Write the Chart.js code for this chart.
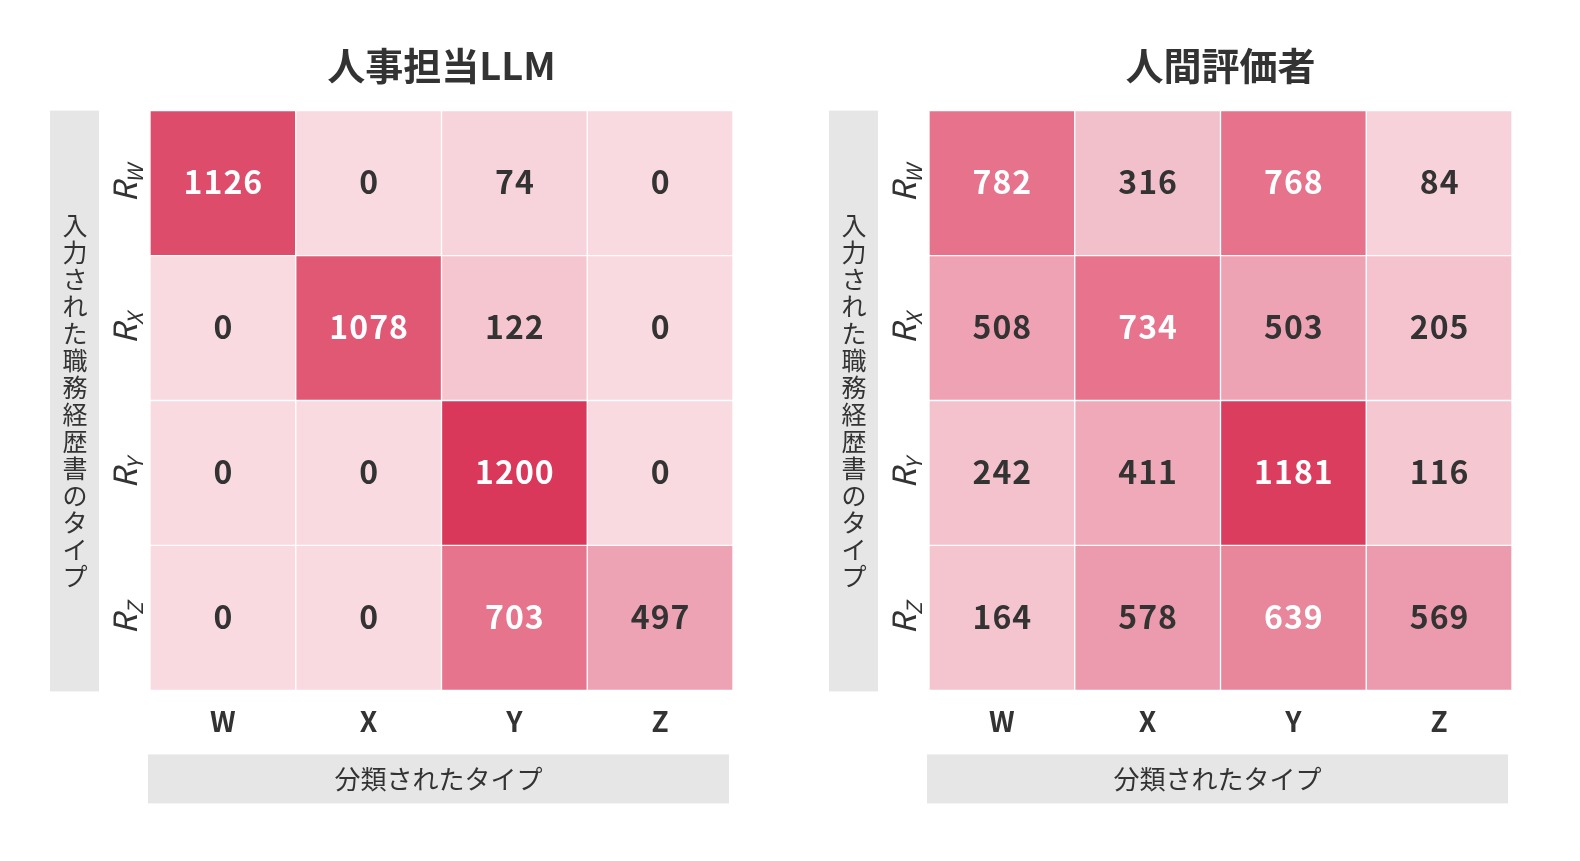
<!DOCTYPE html>
<html lang="ja">
<head>
<meta charset="utf-8">
<title>混同行列</title>
<script src="https://cdn.jsdelivr.net/npm/chart.js@4.4.0/dist/chart.umd.min.js"></script>
<style>
    html, body { margin: 0; padding: 0; background: #fff; overflow: hidden; }
    .wrap { position: absolute; top: 0; width: 775px; height: 861px; }
    #leftWrap { left: 0; }
    #rightWrap { left: 779px; }
</style>
</head>
<body>
<div class="wrap" id="leftWrap"><canvas id="llmChart"></canvas></div>
<div class="wrap" id="rightWrap"><canvas id="humanChart"></canvas></div>
<script>
// Data
const columnLabels = ['W', 'X', 'Y', 'Z'];
const rowLabels = ['W', 'X', 'Y', 'Z'];
const llmValues = [
    [1126, 0, 74, 0],
    [0, 1078, 122, 0],
    [0, 0, 1200, 0],
    [0, 0, 703, 497]
];
const humanValues = [
    [782, 316, 768, 84],
    [508, 734, 503, 205],
    [242, 411, 1181, 116],
    [164, 578, 639, 569]
];
const llmTitle = '人事担当LLM';
const humanTitle = '人間評価者';
const xAxisTitle = '分類されたタイプ';
const yAxisTitle = '入力された職務経歴書のタイプ';

// Colour scale
const stopValues = [0, 80, 120, 320, 411, 500, 580, 640, 700, 790, 1080, 1200];
const stopColors = ['#f9dae0', '#f7d3db', '#f5c6d0', '#f2c0cb', '#efa9b8', '#eea3b4', '#ec9aad',
    '#e8879c', '#e7748d', '#e7728b', '#e05874', '#d9385a'];

const FONT = "'Noto Sans CJK JP', 'Noto Sans', sans-serif";
const TEXT = '#333333';
const BOX = '#e6e6e6';

function hexToRgb(h) {
    return [1, 3, 5].map(i => parseInt(h.substr(i, 2), 16));
}

function colorFor(v) {
    let i = 0;
    while (i < stopValues.length - 2 && v > stopValues[i + 1]) i++;
    const t = Math.min(1, Math.max(0, (v - stopValues[i]) / (stopValues[i + 1] - stopValues[i])));
    const a = hexToRgb(stopColors[i]);
    const b = hexToRgb(stopColors[i + 1]);
    const c = a.map((x, k) => Math.round(x + (b[k] - x) * t));
    return `rgb(${c[0]}, ${c[1]}, ${c[2]})`;
}

// Boxes, row labels and cell values
const heatmapDecor = {
    id: 'heatmapDecor',
    beforeDraw(chart) {
        const { ctx, chartArea: a } = chart;
        ctx.save();
        ctx.fillStyle = BOX;
        ctx.fillRect(a.left - 100, a.top, 49, a.bottom - a.top + 1);
        ctx.fillRect(a.left - 2, a.bottom + 64, a.right - a.left - 2, 49);
        ctx.restore();
    },
    afterDraw(chart) {
        const { ctx, chartArea: a } = chart;
        const yScale = chart.scales.y;
        ctx.save();

        // y axis title, stacked vertically
        ctx.fillStyle = TEXT;
        ctx.font = `400 25px ${FONT}`;
        ctx.textAlign = 'center';
        ctx.textBaseline = 'middle';
        const chars = Array.from(yAxisTitle);
        const step = 27;
        const midY = (a.top + a.bottom) / 2;
        chars.forEach((ch, i) => {
            ctx.fillText(ch, a.left - 75, midY + (i - (chars.length - 1) / 2) * step);
        });

        // x axis title
        ctx.font = `400 26px ${FONT}`;
        ctx.fillText(xAxisTitle, (a.left + a.right) / 2 - 3, a.bottom + 89);

        // row labels R with subscript, rotated
        rowLabels.forEach((lab, i) => {
            const cy = yScale.getPixelForValue(rowLabels.length - i - 0.5);
            ctx.save();
            ctx.translate(a.left - 13, cy);
            ctx.rotate(-Math.PI / 2);
            ctx.textAlign = 'left';
            ctx.textBaseline = 'alphabetic';
            ctx.font = `italic 400 32px ${FONT}`;
            const wR = ctx.measureText('R').width;
            ctx.font = `italic 400 21px ${FONT}`;
            const wS = ctx.measureText(lab).width;
            const x0 = -(wR + wS) / 2;
            ctx.font = `italic 400 32px ${FONT}`;
            ctx.fillText('R', x0, 0);
            ctx.font = `italic 400 21px ${FONT}`;
            ctx.fillText(lab, x0 + wR - 1, 6);
            ctx.restore();
        });

        // cell values
        ctx.font = `700 32px ${FONT}`;
        ctx.letterSpacing = '1px';
        ctx.textAlign = 'center';
        ctx.textBaseline = 'middle';
        chart.data.datasets.forEach((ds, di) => {
            chart.getDatasetMeta(di).data.forEach((bar, ci) => {
                const p = bar.getProps(['x', 'y', 'base'], true);
                const v = ds.values[ci];
                ctx.fillStyle = v >= 600 ? '#ffffff' : TEXT;
                ctx.fillText(String(v), p.x + 0.5, (p.y + p.base) / 2 - 1);
            });
        });
        ctx.restore();
    }
};

function buildHeatmap(canvasId, title, matrix) {
    const n = matrix.length;
    const datasets = matrix.map((row, i) => ({
        label: 'R' + rowLabels[i],
        data: row.map(() => [n - i - 1, n - i]),
        values: row,
        backgroundColor: row.map(colorFor),
        borderColor: '#ffffff',
        borderWidth: 1,
        borderSkipped: false,
        barPercentage: 1,
        categoryPercentage: 1,
        grouped: false
    }));

    return new Chart(document.getElementById(canvasId), {
        type: 'bar',
        data: { labels: columnLabels, datasets },
        options: {
            responsive: true,
            maintainAspectRatio: false,
            animation: false,
            layout: { padding: { top: 43, left: 150, right: 42, bottom: 109 } },
            plugins: {
                legend: { display: false },
                tooltip: { enabled: false },
                title: {
                    display: true,
                    text: title,
                    color: TEXT,
                    font: { family: FONT, size: 38, weight: 'bold' },
                    padding: { top: 0, bottom: 22 }
                }
            },
            scales: {
                x: {
                    type: 'category',
                    grid: { display: false, drawTicks: false },
                    border: { display: false },
                    ticks: {
                        color: TEXT,
                        padding: 14,
                        font: { family: FONT, size: 28, weight: 'bold' }
                    }
                },
                y: {
                    type: 'linear',
                    min: 0,
                    max: n,
                    display: false
                }
            }
        },
        plugins: [heatmapDecor]
    });
}

document.addEventListener('DOMContentLoaded', () => {
    buildHeatmap('llmChart', llmTitle, llmValues);
    buildHeatmap('humanChart', humanTitle, humanValues);
});
</script>
</body>
</html>
